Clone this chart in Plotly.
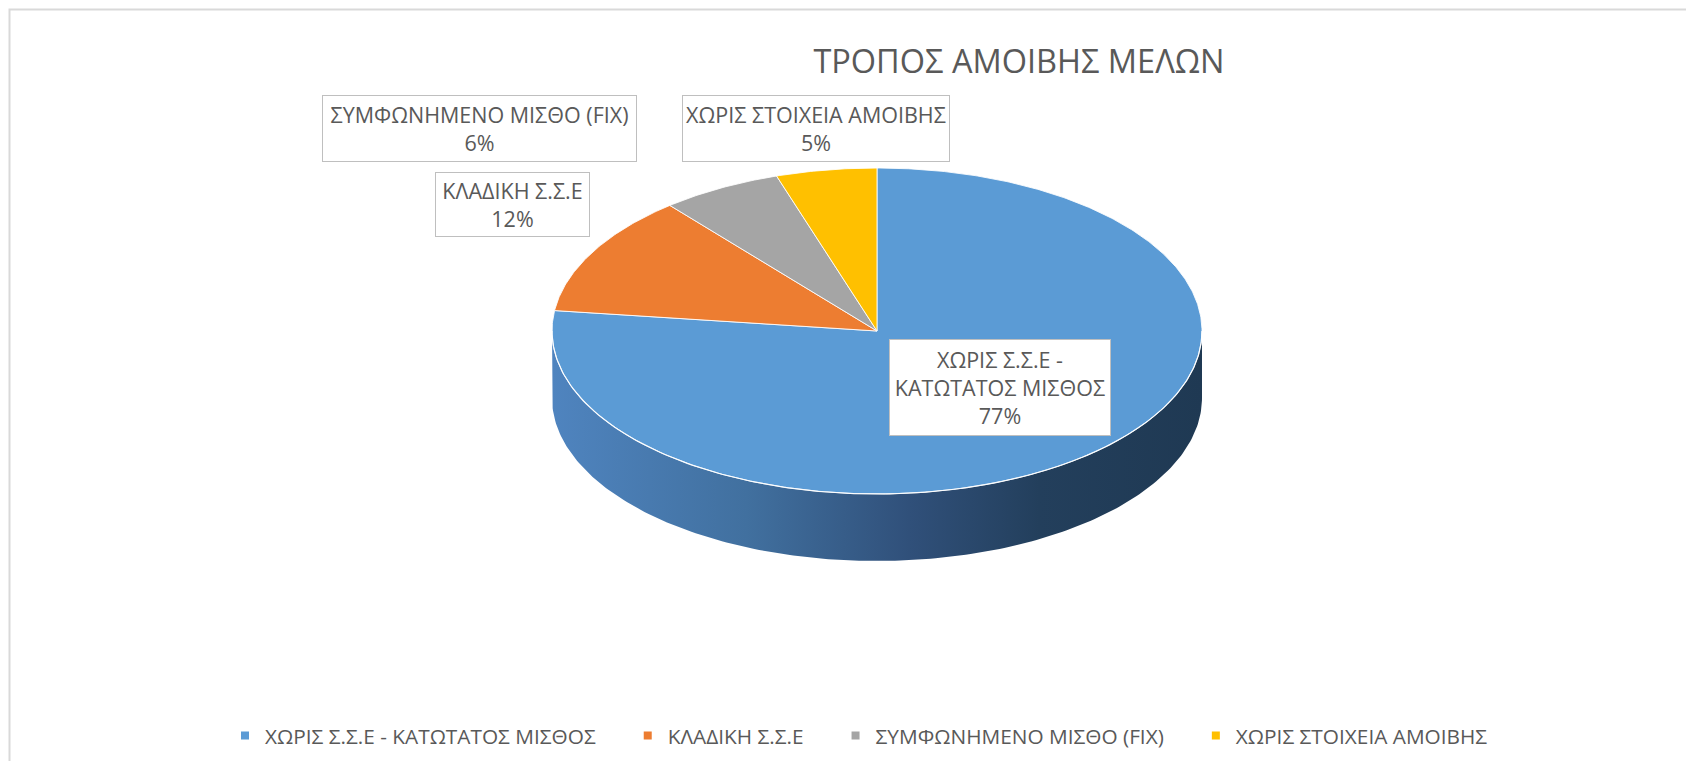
import numpy as np
import plotly.graph_objects as go

# ---------------- data ----------------
title_text = "ΤΡΟΠΟΣ ΑΜΟΙΒΗΣ ΜΕΛΩΝ"
categories = [
    "ΧΩΡΙΣ Σ.Σ.Ε - ΚΑΤΩΤΑΤΟΣ ΜΙΣΘΟΣ",
    "ΚΛΑΔΙΚΗ Σ.Σ.Ε",
    "ΣΥΜΦΩΝΗΜΕΝΟ ΜΙΣΘΟ (FIX)",
    "ΧΩΡΙΣ ΣΤΟΙΧΕΙΑ ΑΜΟΙΒΗΣ",
]
label_names = [
    "ΧΩΡΙΣ Σ.Σ.Ε -<br>ΚΑΤΩΤΑΤΟΣ ΜΙΣΘΟΣ",
    "ΚΛΑΔΙΚΗ Σ.Σ.Ε",
    "ΣΥΜΦΩΝΗΜΕΝΟ ΜΙΣΘΟ (FIX)",
    "ΧΩΡΙΣ ΣΤΟΙΧΕΙΑ ΑΜΟΙΒΗΣ",
]
values = [77, 12, 6, 5]

# ---------------- style / layout constants ----------------
colors = ["#5B9BD5", "#ED7D31", "#A5A5A5", "#FFC000"]
TEXT = "#595959"
FONT = "Open Sans"
OFF = 8                      # default body margin of the html page
W, H = 1694 - 2 * OFF, 769 - 2 * OFF
CX, CY, RX, RY, DEPTH = 877, 331, 325, 163, 67
# label boxes: centre x, centre y, width, height (page pixels)
label_boxes = [
    (1000, 387.5, 222, 97),
    (512.5, 204.5, 155, 65),
    (479.5, 128.5, 315, 67),
    (816, 128.5, 268, 67),
]


def ell(theta_deg, dy=0.0):
    t = np.radians(theta_deg)
    return CX + RX * np.sin(t), CY - RY * np.cos(t) + dy


fig = go.Figure()

# ---- side wall (front half of the cylinder) ----
th = np.linspace(90, 270, 200)
xt, yt = ell(th)
xb, yb = ell(th[::-1], DEPTH)
fig.add_trace(go.Scatter(
    x=np.concatenate([xt, xb]), y=np.concatenate([yt, yb]),
    fill="toself", mode="lines", line=dict(width=0),
    fillgradient=dict(type="horizontal", colorscale=[
        [0.0, "#4F84BF"], [0.3, "#41709F"], [0.55, "#30507A"],
        [0.75, "#233F5C"], [1.0, "#1F3953"]]),
    hoverinfo="skip", showlegend=False))

# ---- top face slices ----
total = sum(values)
start = 0.0
for cat, v, c in zip(categories, values, colors):
    span = 360.0 * v / total
    a = np.linspace(start, start + span, max(int(span * 2), 4))
    px, py = ell(a)
    fig.add_trace(go.Scatter(
        x=np.concatenate([[CX], px, [CX]]), y=np.concatenate([[CY], py, [CY]]),
        fill="toself", fillcolor=c, mode="lines",
        line=dict(color="rgba(255,255,255,0.85)", width=1),
        name=cat, hoverinfo="name", showlegend=False))
    start += span

# rim highlight between top and side
xr, yr = ell(np.linspace(90, 270, 200))
fig.add_trace(go.Scatter(x=xr, y=yr, mode="lines",
                         line=dict(color="rgba(255,255,255,0.9)", width=1.2),
                         hoverinfo="skip", showlegend=False))

# ---- legend entries ----
pad = "\u00a0" * 5
for i, (cat, c) in enumerate(zip(categories, colors)):
    fig.add_trace(go.Scatter(
        x=[None], y=[None], mode="markers",
        marker=dict(symbol="square", size=8, color=c),
        name=cat + (pad if i < len(categories) - 1 else ""), showlegend=True))

# ---- data labels ----
annotations = []
for name, v, (bx, by, bw, bh) in zip(label_names, values, label_boxes):
    pct = f"{round(100 * v / total)}%"
    annotations.append(dict(
        x=bx, y=by, xref="x", yref="y", text=f"{name}<br>{pct}",
        showarrow=False, font=dict(family=FONT, size=21.5, color=TEXT),
        align="center", bgcolor="white", bordercolor="#BFBFBF",
        borderwidth=1, borderpad=0, width=bw - 2, height=bh - 2,
        xanchor="center", yanchor="middle", valign="middle"))

fig.update_layout(
    width=W, height=H,
    margin=dict(l=0, r=0, t=0, b=0),
    paper_bgcolor="white", plot_bgcolor="white",
    font=dict(family=FONT, color=TEXT),
    title=dict(text=title_text, x=(1019 - OFF) / W, y=1 - (62 - OFF) / H,
               xanchor="center", yanchor="middle",
               font=dict(family=FONT, size=32.5, color=TEXT)),
    xaxis=dict(range=[OFF, OFF + W], visible=False, fixedrange=True),
    yaxis=dict(range=[OFF + H, OFF], visible=False, fixedrange=True),
    showlegend=True,
    legend=dict(orientation="h", x=(225 - OFF) / W, xanchor="left",
                y=1 - (736 - OFF) / H, yanchor="middle",
                font=dict(family=FONT, size=20.8, color=TEXT),
                bgcolor="rgba(0,0,0,0)"),
    annotations=annotations,
    shapes=[dict(type="rect", xref="x", yref="y", x0=9.5, y0=9.5,
                 x1=1800, y1=900, line=dict(color="#D9D9D9", width=2),
                 layer="below")],
)

fig.write_html("out.html")
